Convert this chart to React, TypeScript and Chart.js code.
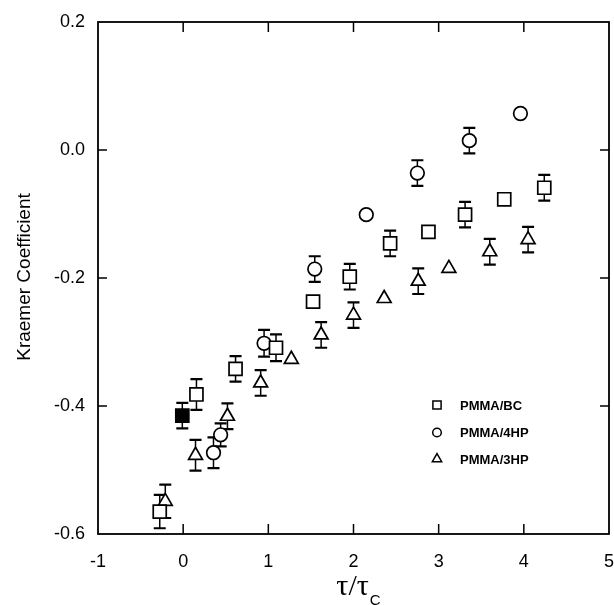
import { useEffect, useRef } from "react";
import { Chart, registerables } from "chart.js";

Chart.register(...registerables);

// ---- Data ----
const xTicks = [-1, 0, 1, 2, 3, 4, 5];
const yTicks = [-0.6, -0.4, -0.2, 0.0, 0.2];

const bcX = [-0.275, 0.156, 0.615, 1.09, 1.525, 1.956, 2.43, 2.88, 3.31, 3.77, 4.24];
const bcY = [-0.565, -0.382, -0.342, -0.309, -0.237, -0.198, -0.146, -0.128, -0.101, -0.077, -0.059];
const bcErr = [0.026, 0.024, 0.02, 0.021, 0, 0.02, 0.02, 0, 0.02, 0, 0.02];

const bcFilledX = [-0.01];
const bcFilledY = [-0.415];
const bcFilledErr = [0.02];

const hp4X = [0.356, 0.44, 0.95, 1.545, 2.15, 2.75, 3.36, 3.96];
const hp4Y = [-0.473, -0.445, -0.302, -0.186, -0.101, -0.036, 0.0146, 0.057];
const hp4Err = [0.024, 0.018, 0.021, 0.02, 0, 0.02, 0.02, 0];

const hp3X = [-0.21, 0.145, 0.52, 0.91, 1.27, 1.62, 2.0, 2.36, 2.76, 3.12, 3.6, 4.05];
const hp3Y = [-0.549, -0.477, -0.416, -0.364, -0.327, -0.289, -0.258, -0.232, -0.205, -0.185, -0.159, -0.14];
const hp3Err = [0.026, 0.024, 0.02, 0.02, 0, 0.02, 0.02, 0, 0.02, 0, 0.02, 0.02];

const seriesLabels = ["PMMA/BC", "PMMA/4HP", "PMMA/3HP"];
const yTitle = "Kraemer Coefficient";

const toPts = (xs: number[], ys: number[]) => xs.map((x, i) => ({ x, y: ys[i] }));

function drawMarker(ctx: CanvasRenderingContext2D, style: string, x: number, y: number, r: number) {
  ctx.beginPath();
  if (style === "rect") {
    const s = r * Math.SQRT1_2;
    ctx.rect(x - s, y - s, 2 * s, 2 * s);
  } else if (style === "circle") {
    ctx.arc(x, y, r, 0, Math.PI * 2);
  } else {
    const h = Math.sin(Math.PI / 3) * r;
    ctx.moveTo(x, y - r);
    ctx.lineTo(x + h, y + r / 2);
    ctx.lineTo(x - h, y + r / 2);
    ctx.closePath();
  }
  ctx.fill();
  ctx.stroke();
}

const decorPlugin = {
  id: "decor",
  beforeDatasetsDraw(chart: any) {
    const ctx = chart.ctx as CanvasRenderingContext2D;
    const ys = chart.scales.y;
    ctx.save();
    ctx.strokeStyle = "#000";
    chart.data.datasets.forEach((ds: any, i: number) => {
      const meta = chart.getDatasetMeta(i);
      const errs: number[] = ds.errors || [];
      meta.data.forEach((el: any, j: number) => {
        const e = errs[j];
        if (!e) return;
        const v = ds.data[j].y;
        const top = ys.getPixelForValue(v + e);
        const bot = ys.getPixelForValue(v - e);
        ctx.lineWidth = 1.5;
        ctx.beginPath();
        ctx.moveTo(el.x, top);
        ctx.lineTo(el.x, bot);
        ctx.stroke();
        ctx.lineWidth = 2.2;
        ctx.beginPath();
        ctx.moveTo(el.x - 6, top);
        ctx.lineTo(el.x + 6, top);
        ctx.moveTo(el.x - 6, bot);
        ctx.lineTo(el.x + 6, bot);
        ctx.stroke();
      });
    });
    ctx.restore();
  },
  afterDraw(chart: any) {
    const ctx = chart.ctx as CanvasRenderingContext2D;
    const { left, right, top, bottom } = chart.chartArea;
    const xs = chart.scales.x;
    const ys = chart.scales.y;
    ctx.save();
    ctx.strokeStyle = "#000";
    ctx.lineWidth = 1.8;
    ctx.strokeRect(left, top, right - left, bottom - top);
    ctx.lineWidth = 1.5;
    ctx.beginPath();
    xTicks.forEach((t) => {
      const px = xs.getPixelForValue(t);
      if (t === xTicks[0] || t === xTicks[xTicks.length - 1]) return;
      ctx.moveTo(px, bottom);
      ctx.lineTo(px, bottom - 10);
      ctx.moveTo(px, top);
      ctx.lineTo(px, top + 10);
    });
    yTicks.forEach((t) => {
      const py = ys.getPixelForValue(t);
      if (t === yTicks[0] || t === yTicks[yTicks.length - 1]) return;
      ctx.moveTo(left, py);
      ctx.lineTo(left + 9, py);
      ctx.moveTo(right, py);
      ctx.lineTo(right - 9, py);
    });
    ctx.stroke();

    // y title
    ctx.fillStyle = "#000";
    ctx.font = "19px 'Liberation Sans', Arial, sans-serif";
    ctx.textAlign = "center";
    ctx.textBaseline = "middle";
    ctx.save();
    ctx.translate(25, 277);
    ctx.rotate(-Math.PI / 2);
    ctx.fillText(yTitle, 0, 0);
    ctx.restore();

    // x title: τ/τ_C
    ctx.textAlign = "left";
    ctx.textBaseline = "alphabetic";
    const main = "τ/τ";
    const sub = "C";
    ctx.font = "30px 'Liberation Serif', serif";
    const wMain = ctx.measureText(main).width;
    ctx.font = "15px 'Liberation Sans', sans-serif";
    const wSub = ctx.measureText(sub).width;
    const cx = 358;
    const x0 = cx - (wMain + wSub) / 2;
    ctx.font = "30px 'Liberation Serif', serif";
    ctx.fillText(main, x0, 595);
    ctx.font = "15px 'Liberation Sans', sans-serif";
    ctx.fillText(sub, x0 + wMain + 1, 605);

    // legend
    const styles = ["rect", "circle", "triangle"];
    const rows = [405, 432.5, 459];
    ctx.lineWidth = 1.5;
    styles.forEach((s, i) => {
      ctx.fillStyle = "#fff";
      drawMarker(ctx, s, 437, rows[i], s === "rect" ? 5.8 : s === "circle" ? 4.3 : 5.4);
      ctx.fillStyle = "#000";
      ctx.font = "bold 13px 'Liberation Sans', Arial, sans-serif";
      ctx.textBaseline = "middle";
      ctx.fillText(seriesLabels[i], 460, rows[i] + 1);
    });
    ctx.restore();
  },
};

export default function App() {
  const ref = useRef<HTMLCanvasElement>(null);
  useEffect(() => {
    document.body.style.margin = "0";
    const base = {
      borderColor: "#000",
      backgroundColor: "#fff",
      borderWidth: 1.7,
      showLine: false,
    };
    const chart = new Chart(ref.current!, {
      type: "scatter",
      data: {
        datasets: [
          { ...base, label: seriesLabels[0], data: toPts(bcX, bcY), errors: bcErr, pointStyle: "rect", pointRadius: 9.2 } as any,
          { ...base, label: seriesLabels[0] + " (filled)", data: toPts(bcFilledX, bcFilledY), errors: bcFilledErr, pointStyle: "rect", pointRadius: 9.2, backgroundColor: "#000" } as any,
          { ...base, label: seriesLabels[1], data: toPts(hp4X, hp4Y), errors: hp4Err, pointStyle: "circle", pointRadius: 6.8 } as any,
          { ...base, label: seriesLabels[2], data: toPts(hp3X, hp3Y), errors: hp3Err, pointStyle: "triangle", pointRadius: 8 } as any,
        ],
      },
      options: {
        responsive: false,
        animation: false,
        events: [],
        layout: { autoPadding: false, padding: { left: 0, right: 5, top: 22, bottom: 0 } },
        plugins: { legend: { display: false }, tooltip: { enabled: false } },
        scales: {
          x: {
            type: "linear",
            min: -1,
            max: 5,
            afterBuildTicks: (s: any) => {
              s.ticks = xTicks.map((v) => ({ value: v }));
            },
            afterFit: (s: any) => {
              s.height = 71;
              s.paddingLeft = 0;
              s.paddingRight = 0;
            },
            grid: { display: false },
            border: { display: false },
            ticks: {
              color: "#000",
              font: { family: "'Liberation Sans', Arial, sans-serif", size: 18 },
              padding: 9,
              maxRotation: 0,
              autoSkip: false,
              callback: (v: any) => String(v),
            },
          },
          y: {
            type: "linear",
            min: -0.6,
            max: 0.2,
            afterBuildTicks: (s: any) => {
              s.ticks = yTicks.map((v) => ({ value: v }));
            },
            afterFit: (s: any) => {
              s.width = 98;
              s.paddingTop = 0;
              s.paddingBottom = 0;
            },
            grid: { display: false },
            border: { display: false },
            ticks: {
              color: "#000",
              font: { family: "'Liberation Sans', Arial, sans-serif", size: 18 },
              padding: 5,
              autoSkip: false,
              callback: (v: any) => Number(v).toFixed(1),
            },
          },
        },
      },
      plugins: [decorPlugin],
    });
    return () => chart.destroy();
  }, []);
  return (
    <div style={{ width: 614, height: 605 }}>
      <canvas ref={ref} width={614} height={605} style={{ display: "block" }} />
    </div>
  );
}
